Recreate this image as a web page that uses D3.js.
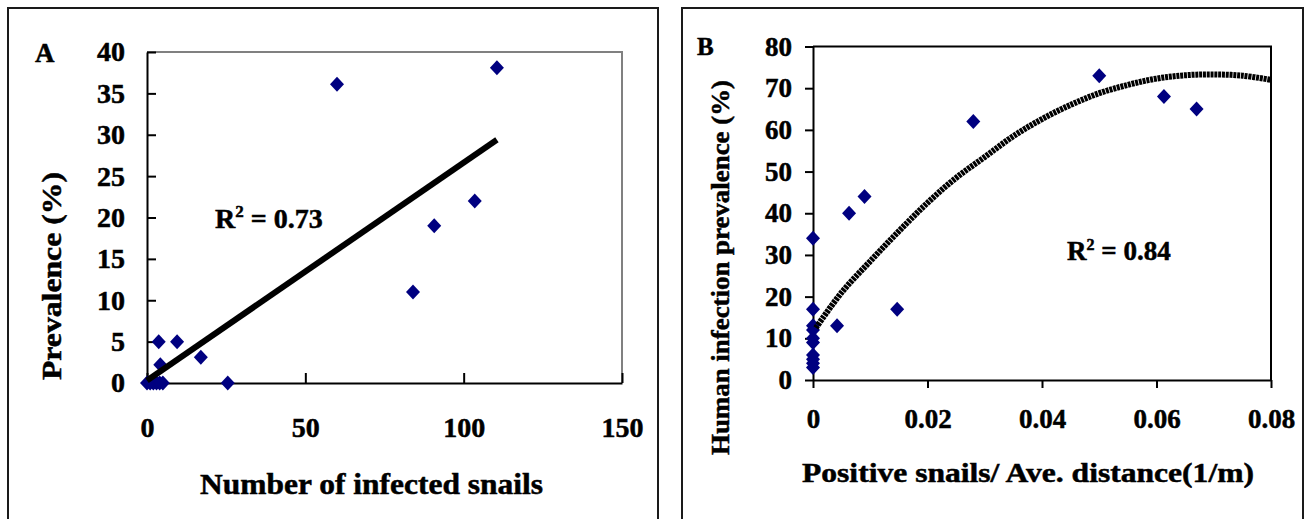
<!DOCTYPE html>
<html><head><meta charset="utf-8">
<script src="https://cdn.jsdelivr.net/npm/d3@7"></script>
<style>
body{margin:0;background:#fff}
text{font-family:"Liberation Serif","Times New Roman",serif;font-weight:bold;fill:#000;stroke:#000;stroke-width:0.5px}
</style>
</head><body><svg id="c" width="1308" height="519"></svg>
<script>
// ---------- Panel A data ----------
const aSnails = [0, 1, 2, 3, 4, 5, 3.7, 4.2, 9.5, 17, 25.5, 60, 84, 90.7, 103.5, 110.5];
const aPrev   = [0, 0, 0, 0, 0, 0, 5, 2.2, 5, 3.1, 0, 36.1, 11, 19, 22, 38.1];
const aTrendX = [0, 110.5];
const aTrendY = [0.3, 29.4];
const aXTicks = [0, 50, 100, 150];
const aYTicks = [0, 5, 10, 15, 20, 25, 30, 35, 40];
const aR2 = "0.73";

// ---------- Panel B data ----------
const bDensity = [0, 0, 0, 0, 0, 0, 0, 0, 0, 0, 0.0042, 0.0063, 0.009, 0.0147, 0.028, 0.05, 0.0613, 0.067];
const bPrev    = [34, 17, 13, 12, 10, 9, 6, 5, 4, 3, 13, 40, 44, 17, 62, 73, 68, 65];
const bCurveX  = [0.0005, 0.005, 0.01, 0.015, 0.02, 0.025, 0.03, 0.035, 0.04, 0.045, 0.05, 0.055, 0.06, 0.065, 0.07, 0.075, 0.08];
const bCurveY  = [12.5, 21, 28.5, 35.7, 42.5, 48.5, 53.5, 58.5, 62.6, 66, 68.8, 70.8, 72.3, 73.1, 73.3, 73, 72];
const bXTicks  = [0, 0.02, 0.04, 0.06, 0.08];
const bYTicks  = [0, 10, 20, 30, 40, 50, 60, 70, 80];
const bR2 = "0.84";

const svg = d3.select("#c");
const navy = "#000080";
const diamondPath = "M0,-7.5L7,0L0,7.5L-7,0Z";
const serif = '"Liberation Serif","Times New Roman",serif';

// frames
svg.append("rect").attr("x", 8).attr("y", 8).attr("width", 650).attr("height", 600)
  .attr("fill", "none").attr("stroke", "#1a1a1a").attr("stroke-width", 2);
svg.append("rect").attr("x", 682).attr("y", 8).attr("width", 621).attr("height", 600)
  .attr("fill", "none").attr("stroke", "#1a1a1a").attr("stroke-width", 2);

function styleAxis(a, fs) {
  a.attr("font-family", serif).attr("font-size", fs).attr("font-weight", "bold");
  a.select(".domain").attr("stroke", "#000").attr("stroke-width", 2);
  a.selectAll(".tick line").attr("stroke", "#000").attr("stroke-width", 2);
  a.selectAll("text").attr("fill", "#000");
}

// ================= Panel A =================
{
  const x = d3.scaleLinear().domain([0, 150]).range([147, 622]);
  const y = d3.scaleLinear().domain([0, 40]).range([383, 52]);
  const g = svg.append("g");
  g.append("path").attr("d", `M${x(0)},${y(40)}H${x(150)}V${y(0)}`)
    .attr("fill", "none").attr("stroke", "#808080").attr("stroke-width", 2);
  const ax = g.append("g").attr("transform", `translate(0,${y(0)})`)
    .call(d3.axisBottom(x).tickValues(aXTicks).tickSize(-10).tickSizeOuter(0).tickPadding(34).tickFormat(d3.format("d")));
  const ay = g.append("g").attr("transform", `translate(${x(0)},0)`)
    .call(d3.axisLeft(y).tickValues(aYTicks).tickSize(-9).tickSizeOuter(0).tickPadding(22).tickFormat(d3.format("d")));
  styleAxis(ax, 28); styleAxis(ay, 28);
  g.selectAll("path.pt").data(aSnails.map((s, i) => [s, aPrev[i]])).enter().append("path")
    .attr("class", "pt").attr("d", diamondPath).attr("fill", navy)
    .attr("transform", d => `translate(${x(d[0])},${y(d[1])})`);
  g.append("path").attr("d", d3.line()(aTrendX.map((v, i) => [x(v), y(aTrendY[i])])))
    .attr("stroke", "#000").attr("stroke-width", 6).attr("fill", "none");
  const r = g.append("text").attr("x", 215).attr("y", 228).attr("font-size", 28);
  r.append("tspan").text("R");
  r.append("tspan").attr("font-size", 17).attr("dy", -11).text("2");
  r.append("tspan").attr("dy", 11).text(" = " + aR2);
  g.append("text").attr("x", 200).attr("y", 494).attr("font-size", 29)
    .attr("textLength", 343).attr("lengthAdjust", "spacingAndGlyphs").text("Number of infected snails");
  g.append("text").attr("transform", "translate(61,380) rotate(-90)").attr("font-size", 28)
    .attr("textLength", 208).attr("lengthAdjust", "spacingAndGlyphs").text("Prevalence (%)");
  g.append("text").attr("x", 35).attr("y", 62).attr("font-size", 27).text("A");
}

// ================= Panel B =================
{
  const x = d3.scaleLinear().domain([0, 0.08]).range([813, 1271]);
  const y = d3.scaleLinear().domain([0, 80]).range([380, 46.5]);
  const g = svg.append("g");
  g.append("path").attr("d", `M${x(0)},${y(80)}H${x(0.08)}V${y(0)}`)
    .attr("fill", "none").attr("stroke", "#000").attr("stroke-width", 2);
  const ax = g.append("g").attr("transform", `translate(0,${y(0)})`)
    .call(d3.axisBottom(x).tickValues(bXTicks).tickSize(8).tickSizeOuter(0).tickPadding(21).tickFormat(d => d === 0 ? "0" : d3.format(".2f")(d)));
  const ay = g.append("g").attr("transform", `translate(${x(0)},0)`)
    .call(d3.axisLeft(y).tickValues(bYTicks).tickSize(8).tickSizeOuter(0).tickPadding(13).tickFormat(d3.format("d")));
  styleAxis(ax, 27); styleAxis(ay, 27);
  g.selectAll("path.pt").data(bDensity.map((s, i) => [s, bPrev[i]])).enter().append("path")
    .attr("class", "pt").attr("d", diamondPath).attr("fill", navy)
    .attr("transform", d => `translate(${x(d[0])},${y(d[1])})`);
  g.append("path").attr("d", d3.line().curve(d3.curveCatmullRom)(bCurveX.map((v, i) => [x(v), y(bCurveY[i])])))
    .attr("stroke", "#000").attr("stroke-width", 6).attr("fill", "none").attr("stroke-dasharray", "3,0.8");
  const r = g.append("text").attr("x", 1067).attr("y", 260).attr("font-size", 27);
  r.append("tspan").text("R");
  r.append("tspan").attr("font-size", 16).attr("dy", -10).text("2");
  r.append("tspan").attr("dy", 10).text(" = " + bR2);
  g.append("text").attr("x", 802).attr("y", 482).attr("font-size", 28)
    .attr("textLength", 452).attr("lengthAdjust", "spacingAndGlyphs").text("Positive snails/ Ave. distance(1/m)");
  g.append("text").attr("transform", "translate(729,455) rotate(-90)").attr("font-size", 25)
    .attr("textLength", 375).attr("lengthAdjust", "spacingAndGlyphs").text("Human infection prevalence (%)");
  g.append("text").attr("x", 697).attr("y", 55).attr("font-size", 25).text("B");
}
</script></body></html>
